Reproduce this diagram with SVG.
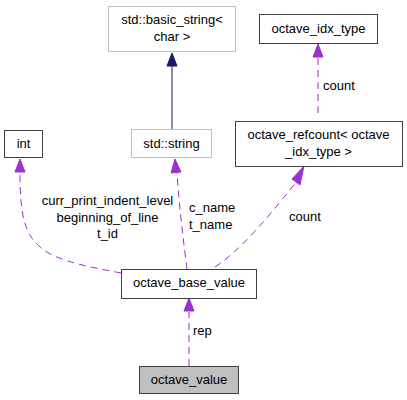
<svg xmlns="http://www.w3.org/2000/svg" width="407" height="400" viewBox="0 0 407 400">
<style>
text{font-family:"Liberation Sans",Arial,sans-serif;font-size:13px;fill:#000}
.n{fill:#fff;stroke:#404040;stroke-width:1}
.g{fill:#fff;stroke:#bfbfbf;stroke-width:1}
.c{text-anchor:middle}
.u{fill:none;stroke:#9a32cd;stroke-width:1;stroke-dasharray:7,5}
.ua{fill:#9a32cd;stroke:#9a32cd}
.i{fill:none;stroke:#191970;stroke-width:1}
.ia{fill:#191970;stroke:#191970}
</style>
<rect width="407" height="400" fill="#fff"/>
<g id="edges">
<path class="i" d="M172,129 L172,66"/>
<polygon class="ia" points="172,53 167,66 177,66"/>
<path class="u" d="M318,113 L318,57"/>
<polygon class="ua" points="318,44 313,57 323,57"/>
<path class="u" d="M121,273 C95,268 60,262 44,250 C24,236 20,215 20,173"/>
<polygon class="ua" points="20,159 15,172 25,172"/>
<path class="u" d="M187,269 C184,245 180,215 177,173"/>
<polygon class="ua" points="175,159 171,173 181,172"/>
<path class="u" d="M215,267 C240,250 262,225 297,181"/>
<polygon class="ua" points="304,166 292,179 300,185"/>
<path class="u" d="M189,366 L189,312"/>
<polygon class="ua" points="189,298 184,311 194,311"/>
<text x="323" y="90">count</text>
<text class="c" x="107.5" y="205">curr_print_indent_level</text>
<text class="c" x="107.5" y="221.5">beginning_of_line</text>
<text class="c" x="107.5" y="238">t_id</text>
<text x="189" y="212">c_name</text>
<text x="189" y="229">t_name</text>
<text x="289" y="221">count</text>
<text x="193" y="335">rep</text>
</g>
<g id="basic_string">
<rect class="g" x="108.5" y="6.5" width="127" height="45"/>
<text class="c" x="172" y="24">std::basic_string&lt;</text>
<text class="c" x="172" y="41">char &gt;</text>
</g>
<g id="octave_idx_type">
<rect class="n" x="259.5" y="14.5" width="118" height="29"/>
<text class="c" x="318.5" y="33">octave_idx_type</text>
</g>
<g id="int">
<rect class="n" x="4.5" y="130.5" width="38" height="27"/>
<text class="c" x="23.5" y="148">int</text>
</g>
<g id="std_string">
<rect class="g" x="131.5" y="129.5" width="80" height="28"/>
<text class="c" x="171.5" y="148">std::string</text>
</g>
<g id="octave_refcount">
<rect class="n" x="235.5" y="121.5" width="167" height="45"/>
<text class="c" x="318.5" y="139">octave_refcount&lt; octave</text>
<text class="c" x="318.5" y="156">_idx_type &gt;</text>
</g>
<g id="octave_base_value">
<rect class="n" x="121.5" y="269.5" width="135" height="29"/>
<text class="c" x="189" y="287">octave_base_value</text>
</g>
<g id="octave_value">
<rect x="139.5" y="366.5" width="99" height="27" fill="#bfbfbf" stroke="#404040"/>
<text class="c" x="189" y="384">octave_value</text>
</g>
</svg>
